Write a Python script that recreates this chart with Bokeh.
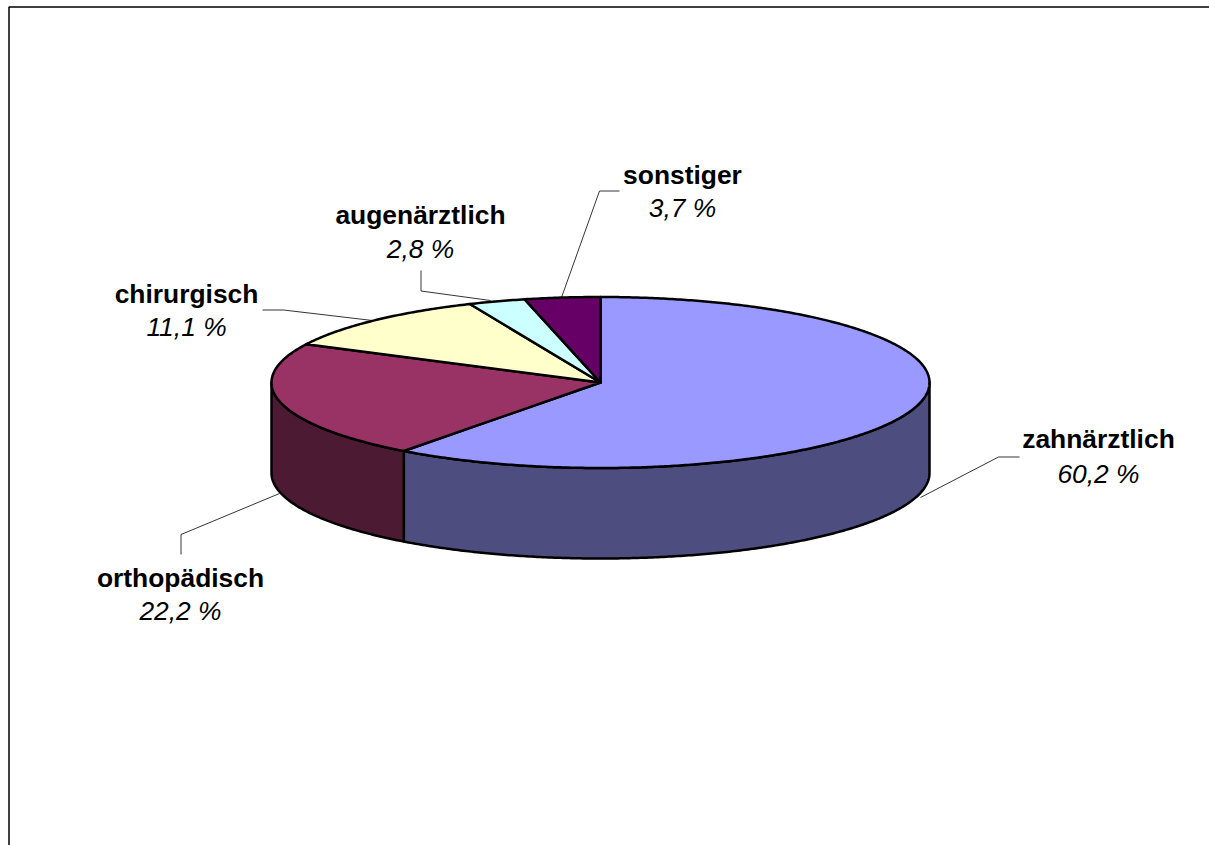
import numpy as np
from bokeh.core.properties import value
from bokeh.embed import file_html
from bokeh.models import Range1d
from bokeh.plotting import figure
from bokeh.resources import INLINE

# Data
categories = ["zahnärztlich", "orthopädisch", "chirurgisch", "augenärztlich", "sonstiger"]
shares = [60.2, 22.2, 11.1, 2.8, 3.7]
share_labels = ["60,2 %", "22,2 %", "11,1 %", "2,8 %", "3,7 %"]
top_colors = ["#9999FF", "#993366", "#FFFFCC", "#CCFFFF", "#660066"]
side_colors = ["#4D4D80", "#4D1A33", "#808066", "#668080", "#330033"]

# Layout (canvas pixels)
CX, CY, RX, RY, DEPTH = 600.0, 382.0, 329.0, 85.5, 90.5
LABEL_X = [1098, 180, 186, 420, 682]
NAME_Y = [438, 577, 293, 214, 174]
VALUE_Y = [473, 610, 326, 248, 207]
LEADERS = [
    ([1019, 998, 920], [456.5, 456.5, 497]),
    ([180.5, 180.5, 279], [554, 534, 493]),
    ([262, 283, 372], [309.5, 309.5, 320]),
    ([420.5, 420.5, 490], [270, 290.5, 300]),
    ([619, 599, 561], [190.5, 190.5, 297]),
]

p = figure(width=1209, height=845, output_backend="svg", toolbar_location=None,
           x_range=Range1d(0, 1209), y_range=Range1d(845, 0),
           min_border=0, outline_line_color=None, x_axis_location=None, y_axis_location=None,
           margin=(0, 0, 0, 0))
p.grid.visible = False
p.background_fill_color = "white"

# Chart frame, clipped by the window at right and bottom
p.line([8.5, 8.5, 1209], [845, 6.5, 6.5], line_color="black", line_width=1.5)


def arc(a0, a1, dy=0.0):
    t = np.radians(np.linspace(a0, a1, max(int(abs(a1 - a0) * 2), 2)))
    return CX + RX * np.sin(t), CY - RY * np.cos(t) + dy


edges = np.concatenate([[0], np.cumsum(shares)]) / sum(shares) * 360

# Front wall (only the part between 90 and 270 degrees shows)
for i in range(len(shares)):
    a0, a1 = max(edges[i], 90), min(edges[i + 1], 270)
    if a1 <= a0:
        continue
    xt, yt = arc(a0, a1)
    xb, yb = arc(a1, a0, DEPTH)
    p.patch(np.concatenate([xt, xb]), np.concatenate([yt, yb]),
            fill_color=side_colors[i], line_color="black", line_width=2.5, line_join="round")

# Top surface
for i in range(len(shares)):
    xt, yt = arc(edges[i], edges[i + 1])
    p.patch(np.concatenate([[CX], xt]), np.concatenate([[CY], yt]),
            fill_color=top_colors[i], line_color="black", line_width=2.5, line_join="round")

# Leader lines
for xs, ys in LEADERS:
    p.line(xs, ys, line_color="black", line_width=0.8)

# Labels
font = value("Liberation Sans")
p.text(LABEL_X, NAME_Y, text=categories, text_font=font, text_font_size="26.4px",
       text_font_style="bold", text_align="center", text_baseline="alphabetic", text_color="black")
p.text(LABEL_X, VALUE_Y, text=share_labels, text_font=font, text_font_size="26.4px",
       text_font_style="italic", text_align="center", text_baseline="alphabetic", text_color="black")

open("out.html", "w").write(file_html(p, INLINE))
